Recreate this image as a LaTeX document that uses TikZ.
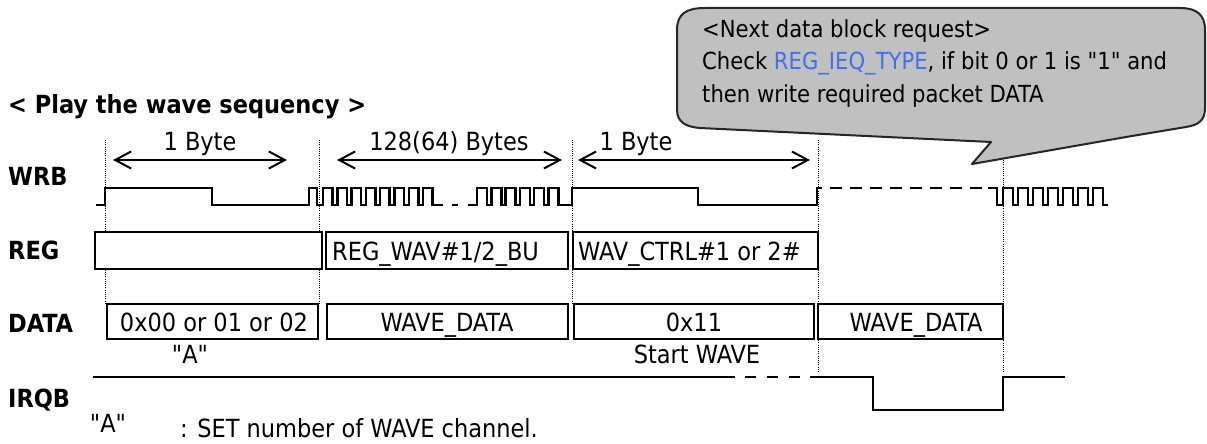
\documentclass[tikz,border=0pt]{standalone}
\usepackage{fontspec}
\setmainfont{DejaVuSansCondensed.ttf}[BoldFont=DejaVuSansCondensed-Bold.ttf]
\usetikzlibrary{arrows.meta}
\definecolor{balloongray}{RGB}{192,192,192}
\definecolor{linkblue}{RGB}{64,112,240}
\newcommand{\dq}{\textquotedbl}
\begin{document}
\begin{tikzpicture}[x=1pt,y=-1pt,
  lbl/.style={font=\bfseries\fontsize{25}{30}\selectfont, anchor=base west, inner sep=0pt},
  txt/.style={font=\fontsize{25}{30}\selectfont, inner sep=0pt},
  btxt/.style={font=\fontsize{23.5}{28}\selectfont, anchor=base west, inner sep=0pt},
  wave/.style={line width=2.5pt, line join=miter, line cap=butt},
  guide/.style={line width=1pt, dash pattern=on 1pt off 1.2pt},
  regbox/.style={draw, line width=2.5pt, fill=white},
  databox/.style={draw, line width=2pt, fill=white},
  span/.style={line width=2pt, {Straight Barb[length=16pt,width=17pt,line width=2pt]}-{Straight Barb[length=16pt,width=17pt,line width=2pt]}},
  balloon/.style={draw=black!85, line width=2pt, fill=balloongray, line join=round}]
\useasboundingbox (0,0) rectangle (1207,444);

% title and labels
\node[lbl] (title) at (8,113) {< Play the wave sequency >};
\node[lbl] (wrb)  at (8,185) {WRB};
\node[lbl] (reg)  at (8,259) {REG};
\node[lbl] (data) at (8,332) {DATA};
\node[lbl] (irqb) at (8,407) {IRQB};

% dotted guides
\draw[guide] (105,140) -- (105,303);
\draw[guide] (319,140) -- (319,303);
\draw[guide] (572,140) -- (572,303);
\draw[guide] (818,140) -- (818,372);
\draw[guide] (1003,160) -- (1003,372);

% byte spans
\coordinate (s1a) at (113,160); \coordinate (s1b) at (287,160);
\coordinate (s2a) at (337,160); \coordinate (s2b) at (562,160);
\coordinate (s3a) at (578,160); \coordinate (s3b) at (810,160);
\draw[span] (s1a) -- (s1b);
\draw[span] (s2a) -- (s2b);
\draw[span] (s3a) -- (s3b);
\node[txt, anchor=base] (t1) at (200,150) {1 Byte};
\node[txt, anchor=base] (t2) at (449,150) {128(64) Bytes};
\node[txt, anchor=base] (t3) at (636,150) {1 Byte};

% WRB waveform
\draw[wave] (96,205) -- (105,205) -- (105,188) -- (212,188) -- (212,205) -- (309,205) -- (309,188) -- (317,188) -- (317,205) -- (323,205)
  \foreach \i in {1,...,8} { -- ++(0,-17) -- ++(9.5,0) -- ++(0,17) -- ++(4.8,0) } -- (443,205);
\draw[wave] (452,205) -- (458,205);
\draw[wave] (468,205) -- (477,205)
  \foreach \i in {1,...,6} { -- ++(0,-17) -- ++(10,0) -- ++(0,17) -- ++(4.3,0) }
  -- (572,205) -- (572,188) -- (698,188) -- (698,205) -- (817,205) -- (817,188) -- (822,188);
\draw[wave, dash pattern=on 12pt off 8pt] (830,188) -- (988,188);
\draw[wave] (988,188) -- (997,188) -- (997,205) -- (1003,205)
  \foreach \i in {1,...,7} { -- ++(0,-17) -- ++(10,0) -- ++(0,17) -- ++(5,0) };

% REG boxes
\draw[regbox] (95,232) rectangle (322,269);
\draw[regbox] (326,232) rectangle (568,269);
\draw[regbox] (573,232) rectangle (818,269);
\node[txt, anchor=base west] (r2) at (332,260) {REG\_WAV\#1/2\_BU};
\node[txt, anchor=base west] (r3) at (578,260) {WAV\_CTRL\#1 or 2\#};

% DATA boxes
\draw[databox] (107,304) rectangle (318,339);
\draw[databox] (327,304) rectangle (568,339);
\draw[databox] (574,304) rectangle (814,339);
\draw[databox] (818,304) rectangle (1003,339);
\node[txt, anchor=base] (d1) at (214,331) {0x00 or 01 or 02};
\node[txt, anchor=base] (d2) at (447,331) {WAVE\_DATA};
\node[txt, anchor=base] (d3) at (694,331) {0x11};
\node[txt, anchor=base] (d4) at (916,331) {WAVE\_DATA};
\node[txt, anchor=base] (qa) at (190,363) {\dq A\dq};
\node[txt, anchor=base] (sw) at (697,363) {Start WAVE};

% IRQB
\draw[wave, line width=2pt] (93,377) -- (735,377);
\draw[wave, line width=2pt, dash pattern=on 11pt off 11pt] (745,377) -- (810,377);
\draw[wave, line width=2pt] (810,377) -- (873,377) -- (873,410) -- (1003,410) -- (1003,377) -- (1065,377);

% footnote
\node[txt, anchor=base] (qa2) at (108,432) {\dq A\dq};
\node[txt, anchor=base west] (note) at (180,437) {: SET number of WAVE channel.};

% balloon
\draw[balloon] (677,30) .. controls (677,14) and (686,8) .. (705,8)
  -- (1180,8) .. controls (1197,8) and (1205,15) .. (1205,30)
  -- (1205,108) .. controls (1205,120) and (1199,125) .. (1186,127)
  -- (1126,137) -- (972,164) -- (991,142)
  -- (700,128) .. controls (686,127) and (677,122) .. (677,110) -- cycle;
\node[btxt] (b1) at (702,38) {<Next data block request>};
\node[btxt] (b2) at (702,70) {Check \textcolor{linkblue}{REG\_IEQ\_TYPE}, if bit 0 or 1 is \dq 1\dq{} and};
\node[btxt] (b3) at (702,102) {then write required packet DATA};
\end{tikzpicture}
\end{document}
